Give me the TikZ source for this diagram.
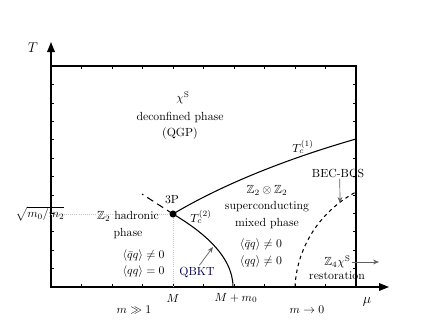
\documentclass[tikz,border=0pt]{standalone}
\usepackage{amsmath,amssymb}
\usepackage{xcolor}
\usepackage{tikz}
\usetikzlibrary{positioning, arrows.meta}

\begin{document}
\begin{tikzpicture}[
  x=0.85pt, y=-0.85pt,
  lbl/.style={align=center, inner sep=1pt,
              font=\fontsize{10}{14}\selectfont},
  pointer/.style={-{Stealth[length=5pt,width=4pt]}, semithick, gray!75!black},
  axis/.style={-{Triangle[length=8.5pt,width=6.5pt]}, line width=1.1pt},
  phaseline/.style={line width=0.9pt},
  guide/.style={densely dotted, gray!45, line width=0.8pt}
]
  \useasboundingbox (0,0) rectangle (440,335);

  % frame with small inner ticks
  \draw[line width=1.1pt] (51,66) rectangle (356,287);
  \foreach \i in {1,...,9} {
    \draw[thin] (51+30.5*\i,66) -- ++(0,3);
    \draw[thin] (51+30.5*\i,287) -- ++(0,-3);
  }
  \foreach \j in {1,...,11} {
    \draw[thin] (51,66+18.4*\j) -- ++(3,0);
    \draw[thin] (356,66+18.4*\j) -- ++(-3,0);
  }

  % axes
  \coordinate (origin) at (51,287);
  \coordinate (Ttip)   at (51,42);
  \coordinate (mutip)  at (389,287);
  \draw[axis] (origin) -- (Ttip);
  \draw[axis] (origin) -- (mutip);
  \node[lbl, font=\large] (Tlab)  at (33,48)  {$T$};
  \node[lbl, font=\large] (mulab) at (367,302) {$\mu$};

  % triple point and guides
  \node[circle, fill, inner sep=0pt, minimum size=6pt] (tp) at (173,214) {};
  \coordinate (sqrtpos) at (51,214);
  \coordinate (Mpos)    at (173,287);
  \draw[guide] (sqrtpos) -- (tp);
  \draw[guide] (tp) -- (Mpos);

  % phase boundaries
  \coordinate (tc1end) at (356,139);
  \coordinate (tc2end) at (233,287);
  \coordinate (tpdash) at (142,194);
  \coordinate (becA)   at (295,287);
  \coordinate (becB)   at (356,192);
  \draw[phaseline] (tp.center) .. controls (230,180) and (300,155) .. (tc1end);
  \draw[phaseline] (tp.center) .. controls (200,230) and (233,255) .. (tc2end);
  \draw[phaseline, dash pattern=on 6pt off 4pt] (tp.center) -- (tpdash);
  \draw[phaseline, dash pattern=on 3pt off 3pt]
    (becA) .. controls (297,245) and (322,210) .. (becB);

  % labels
  \node[lbl] (chi)    at (183,98)  {$\chi^{\mathrm{S}}$};
  \node[lbl] (qgp)    at (180,126) {deconfined phase\\(QGP)};
  \node[lbl] (tc1lab) at (303,147) {$T_c^{(1)}$};
  \node[lbl] (tplab)  at (172,200) {3P};
  \node[lbl] (tc2lab) at (201,217) {$T_c^{(2)}$};
  \node[lbl] (hadr)   at (128,225) {$\mathbb{Z}_2$ hadronic\\phase};
  \node[lbl, anchor=east] (hadq1) at (166,256) {$\langle\bar{q}q\rangle\neq0$};
  \node[lbl, anchor=east] (hadq2) at (166,272) {$\langle qq\rangle=0$};
  \node[lbl, text=blue!30!black] (qbkt) at (197,272) {QBKT};
  \node[lbl] (mixed)  at (267,207)
    {$\mathbb{Z}_2\otimes\mathbb{Z}_2$\\superconducting\\mixed phase};
  \node[lbl] (mixq1)  at (261,245) {$\langle\bar{q}q\rangle\neq0$};
  \node[lbl] (mixq2)  at (261,262) {$\langle qq\rangle\neq0$};
  \node[lbl] (bec)    at (338,173) {BEC-BCS};
  \node[lbl, anchor=east] (z4) at (352,262) {$\mathbb{Z}_4\chi^{\mathrm{S}}$};
  \node[lbl] (rest)   at (337,276) {restoration};
  \node[lbl] (sqrtlab) at (40,214) {$\sqrt{m_0/m_2}$};
  \node[lbl] (Mlab)   at (173,298) {$M$};
  \node[lbl] (Mmlab)  at (236,298) {$M+m_0$};
  \node[lbl] (heavy)  at (134,310) {$m\gg1$};
  \node[lbl] (light)  at (307,310) {$m\to0$};

  % pointers
  \coordinate (qbkttip) at (213,247);
  \coordinate (bectip)  at (340,203);
  \coordinate (z4tip)   at (379,262);
  \draw[pointer] ([xshift=2pt]qbkt.north) -- (qbkttip);
  \draw[pointer] ([xshift=1.5pt]bec.south) -- (bectip);
  \draw[pointer] (z4.east) -- (z4tip);
\end{tikzpicture}
\end{document}
